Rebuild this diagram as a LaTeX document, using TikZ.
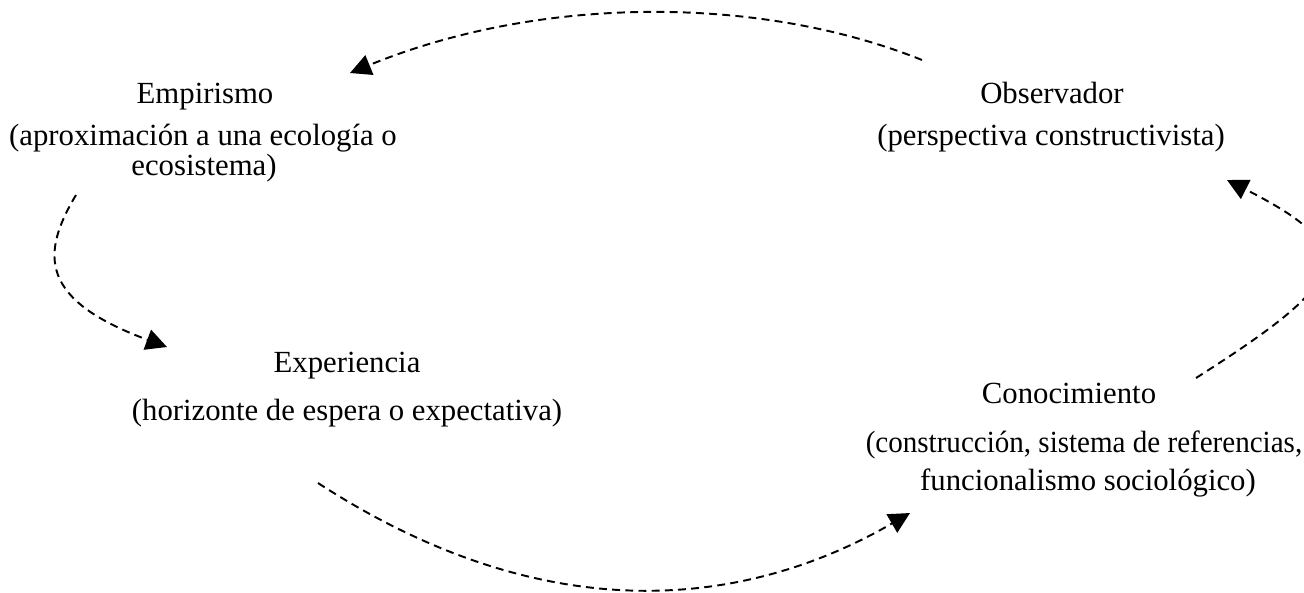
\documentclass[tikz,border=0pt]{standalone}
\usepackage{fontspec}
\setmainfont{Liberation Serif}
\usetikzlibrary{arrows.meta}
\begin{document}
\begin{tikzpicture}[x=0.02cm,y=-0.02cm,
  lbl/.style={anchor=base,inner sep=0pt,font=\fontsize{17.5}{20}\selectfont},
  flow/.style={line width=1.1pt,dash pattern=on 4.5pt off 3pt,
    -{Triangle[length=0.42cm,width=0.42cm]}}]
\useasboundingbox (0,0) rectangle (1304,592);
\clip (0,0) rectangle (1304,592);
% texts
\node[lbl] (emp)  at (205,103) {Empirismo};
\node[lbl] (empa) at (203,145) {(aproximación a una ecología o};
\node[lbl] (empb) at (204,175) {ecosistema)};
\node[lbl] (obs)  at (1052,103) {Observador};
\node[lbl] (obsa) at (1051,145) {(perspectiva constructivista)};
\node[lbl] (exp)  at (347,372) {Experiencia};
\node[lbl] (expa) at (347,420) {(horizonte de espera o expectativa)};
\node[lbl] (con)  at (1069,403) {Conocimiento};
\node[lbl] (cona) at (1084,452) {\scalebox{0.945}[1]{(construcción, sistema de referencias,}};
\node[lbl] (conb) at (1088,490) {funcionalismo sociológico)};
% connector ends
\coordinate (o1) at (922,60);
\coordinate (e1) at (350,73);
\coordinate (e2) at (76,195);
\coordinate (x2) at (167,347);
\coordinate (x3) at (318,483);
\coordinate (c3) at (910,513);
\coordinate (c4) at (1196,378);
\coordinate (o4) at (1227,180);
% connectors
\draw[flow] (o1) .. controls (760,-5) and (540,-5) .. (e1);
\draw[flow] (e2) .. controls (40,255) and (40,300) .. (x2);
\draw[flow] (x3) .. controls (560,640) and (760,600) .. (c3);
\draw[flow] (c4) .. controls (1350,280) and (1365,250) .. (o4);
\end{tikzpicture}
\end{document}
